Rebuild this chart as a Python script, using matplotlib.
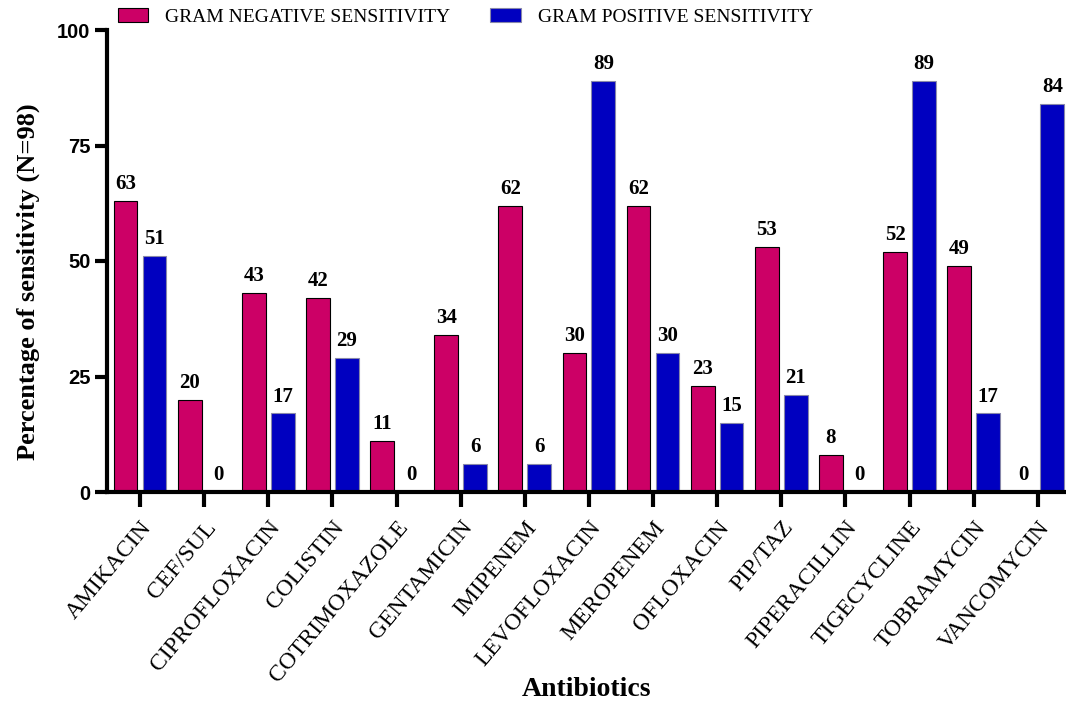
import matplotlib
matplotlib.use("Agg")
import matplotlib.pyplot as plt
import numpy as np
from matplotlib.patches import Patch

categories = ["AMIKACIN", "CEF/SUL", "CIPROFLOXACIN", "COLISTIN", "COTRIMOXAZOLE",
              "GENTAMICIN", "IMIPENEM", "LEVOFLOXACIN", "MEROPENEM", "OFLOXACIN",
              "PIP/TAZ", "PIPERACILLIN", "TIGECYCLINE", "TOBRAMYCIN", "VANCOMYCIN"]
gram_negative = [63, 20, 43, 42, 11, 34, 62, 30, 62, 23, 53, 8, 52, 49, 0]
gram_positive = [51, 0, 17, 29, 0, 6, 6, 89, 30, 15, 21, 0, 89, 17, 84]
series_names = ["GRAM NEGATIVE SENSITIVITY", "GRAM POSITIVE SENSITIVITY"]
y_ticks = [0, 25, 50, 75, 100]

neg_color = "#CC0066"
pos_color = "#0000C0"
serif = "Liberation Serif"

fig = plt.figure(figsize=(10.66, 7.07), dpi=100)
ax = fig.add_axes([107/1066, 1-492/707, 1-107/1066, (492-30)/707])

x = np.arange(len(categories))
w = 0.37
off = 0.225
b1 = ax.bar(x - off, gram_negative, w, color=neg_color, edgecolor="black", linewidth=0.8)
b2 = ax.bar(x + off, gram_positive, w, color=pos_color, edgecolor="#8888AA", linewidth=0.8)

for bars, vals in ((b1, gram_negative), (b2, gram_positive)):
    for rect, v in zip(bars, vals):
        ax.annotate(f"{v}", (rect.get_x() + rect.get_width()/2, v),
                    xytext=(0, 5), textcoords="offset points",
                    ha="center", va="bottom", fontsize=15, fontweight="bold",
                    family=serif)

ax.set_xlim(-0.515, 14.44)
ax.set_ylim(0, 100)
ax.set_yticks(y_ticks)
ax.set_yticklabels([str(t) for t in y_ticks], fontsize=14.5,
                   fontweight="bold", family="Liberation Sans")
ax.set_xticks(x)
ax.set_xticklabels(categories, rotation=50, ha="right", rotation_mode="anchor",
                   fontsize=17, family=serif)

for s in ("top", "right"):
    ax.spines[s].set_visible(False)
for s in ("left", "bottom"):
    ax.spines[s].set_linewidth(3)
ax.tick_params(axis="x", length=11, width=3, pad=7)
ax.tick_params(axis="y", length=9, width=3, pad=3)

ax.set_ylabel("Percentage of sensitivity (N=98)", fontsize=19, fontweight="bold",
              family=serif)
ax.yaxis.set_label_coords(-0.07, 0.455)
ax.set_xlabel("Antibiotics", fontsize=20, fontweight="bold", family=serif)
ax.xaxis.set_label_coords(0.5, -0.40)

handles = [Patch(facecolor=neg_color, edgecolor="black", linewidth=0.8),
           Patch(facecolor=pos_color, edgecolor="#8888AA", linewidth=0.8)]
fig.legend(handles, series_names, loc="upper left", bbox_to_anchor=(110/1066, 1.0),
           ncol=2, frameon=False, prop={"family": serif, "size": 14},
           handlelength=1.55, handleheight=0.72, columnspacing=2.05, handletextpad=0.9,
           borderaxespad=0.0)

fig.savefig("out.png", dpi=100)
